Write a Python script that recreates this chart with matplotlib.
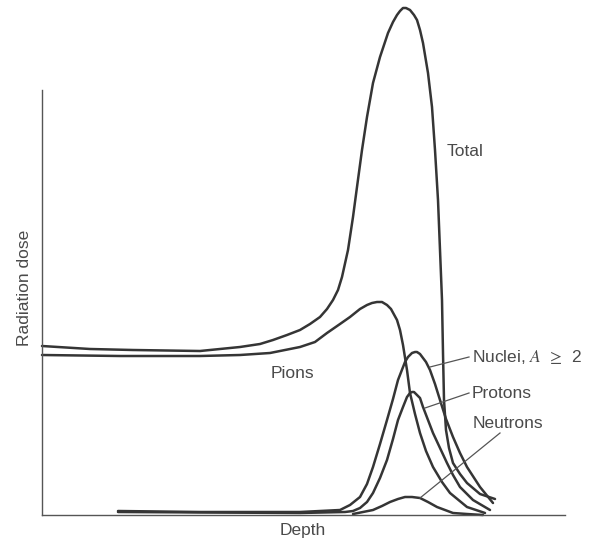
import matplotlib
matplotlib.use("Agg")
import matplotlib.pyplot as plt

# ---- data (arbitrary units: depth 0-523, dose 0-515) ----
total_depth = [0, 48, 91, 158, 198, 218, 231, 245, 258, 268, 278, 285, 291, 296, 300, 306,
               311, 315, 320, 325, 331, 338, 346, 351, 355, 358, 361, 364, 368, 372, 375,
               378, 381, 386, 390, 393, 396, 398, 400, 401, 402, 404, 407, 411, 418, 425,
               438, 453]
total_dose = [169, 166, 165, 164, 168, 171, 175, 180, 185, 191, 198, 206, 215, 225, 238, 265,
              298, 328, 365, 398, 432, 458, 482, 493, 500, 504, 507, 507, 505, 500, 495,
              485, 472, 442, 408, 365, 315, 265, 215, 162, 115, 85, 67, 52, 41, 32,
              21, 16]

pions_depth = [0, 78, 158, 198, 228, 258, 273, 285, 298, 308, 318, 325, 330, 335, 340, 345,
               349, 355, 358, 361, 365, 368, 373, 378, 384, 391, 400, 408, 425, 443]
pions_dose = [160, 159, 159, 160, 162, 168, 173, 182, 191, 198, 206, 210, 212, 213, 213, 210,
              206, 195, 185, 170, 145, 122, 101, 82, 64, 48, 33, 22, 8, 2]

nuclei_depth = [76, 158, 258, 298, 308, 318, 325, 331, 338, 345, 351, 356, 363, 366, 370,
                373, 375, 378, 381, 384, 388, 393, 398, 404, 411, 418, 425, 438, 451]
nuclei_dose = [4, 3, 3, 5, 10, 18, 31, 48, 71, 95, 116, 135, 153, 158, 162, 163, 163, 161,
               157, 153, 145, 131, 115, 96, 78, 62, 48, 28, 12]

protons_depth = [76, 258, 303, 311, 318, 325, 331, 338, 345, 351, 356, 361, 365, 368, 370,
                 372, 375, 378, 381, 386, 391, 398, 405, 411, 418, 431, 448]
protons_dose = [3, 2, 3, 4, 7, 13, 22, 37, 55, 76, 95, 108, 118, 122, 123, 123, 120, 117,
                108, 95, 82, 67, 52, 40, 28, 15, 5]

neutrons_depth = [311, 331, 340, 348, 356, 363, 370, 378, 386, 395, 403, 411, 425, 441]
neutrons_dose = [1, 5, 9, 13, 16, 18, 18, 17, 13, 8, 5, 2, 1, 0]

series_labels = ["Total", "Pions", "Nuclei, $A$ $\\,\\geq\\,$ 2", "Protons", "Neutrons"]
x_label = "Depth"
y_label = "Radiation dose"

# ---- style ----
plt.rcParams["font.family"] = ["Liberation Sans", "DejaVu Sans"]
plt.rcParams["mathtext.fontset"] = "stix"
LINE = "#353535"
TXT = "#4a4a4a"
LW = 1.8

fig = plt.figure(figsize=(5.91, 5.48), dpi=100)
W, H = 591, 548
ax = fig.add_axes([42 / W, (H - 515) / H, (565 - 42) / W, 515 / H])
ax.set_xlim(0, 523)
ax.set_ylim(0, 515)

for xs, ys in [(total_depth, total_dose), (pions_depth, pions_dose),
               (nuclei_depth, nuclei_dose), (protons_depth, protons_dose),
               (neutrons_depth, neutrons_dose)]:
    ax.plot(xs, ys, color=LINE, lw=LW, solid_joinstyle="round", solid_capstyle="round",
            clip_on=False)

for s in ["top", "right"]:
    ax.spines[s].set_visible(False)
ax.spines["left"].set_bounds(0, 425)
for s in ["left", "bottom"]:
    ax.spines[s].set_color("#555555")
    ax.spines[s].set_linewidth(1.0)
ax.set_xticks([])
ax.set_yticks([])
ax.patch.set_visible(False)

fs = 12.5
ax.text(405, 363, series_labels[0], ha="left", va="center", fontsize=fs, color=TXT)
ax.text(250, 142, series_labels[1], ha="center", va="center", fontsize=fs, color=TXT)
ax.text(430, 158, series_labels[2], ha="left", va="center", fontsize=fs, color=TXT)
ax.text(430, 122, series_labels[3], ha="left", va="center", fontsize=fs, color=TXT)
ax.text(431, 92, series_labels[4], ha="left", va="center", fontsize=fs, color=TXT)

lead = dict(color="#555555", lw=0.9, clip_on=False)
ax.plot([388, 427], [148, 158], **lead)
ax.plot([383, 427], [107, 122], **lead)
ax.plot([378, 458], [17, 82], **lead)

fig.text(303 / W, 1 - 530 / H, x_label, ha="center", va="center", fontsize=fs, color=TXT)
fig.text(25 / W, 1 - 288 / H, y_label, ha="center", va="center", rotation=90,
         fontsize=fs, color=TXT)

fig.savefig("out.png", dpi=100)
